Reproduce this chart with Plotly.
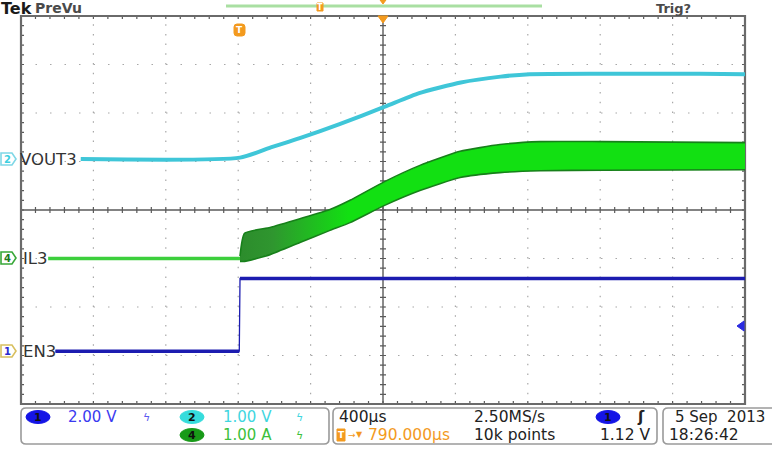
import plotly.graph_objects as go

# ---------------- data ----------------
# time in microseconds relative to the trigger (EN3 rising edge); 400 us/div
x_left, x_right = -1210, 2790

# CH1  EN3  (2.00 V/div)
en3_t = [-1020, -4, 0, 2790]
en3_v = [0.0, 0.0, 3.0, 3.0]

# CH2  VOUT3 (1.00 V/div)
vout3_t = [-880, 0, 170, 330, 550, 800, 990, 1220, 1440, 1600, 2000, 2540, 2790]
vout3_v = [0.0, 0.03, 0.24, 0.43, 0.72, 1.08, 1.36, 1.58, 1.70, 1.75, 1.76, 1.76, 1.75]

# CH4  IL3 (1.00 A/div): baseline before start-up, then ripple envelope
il3_base_t = [-1060, 0]
il3_base_a = [0.0, 0.0]
il3_t = [0, 25, 166, 331, 497, 608, 796, 994, 1216, 1436, 1658, 2000, 2790]
il3_hi = [0.05, 0.52, 0.64, 0.82, 1.01, 1.20, 1.58, 1.92, 2.21, 2.35, 2.41, 2.41, 2.39]
il3_lo = [-0.06, -0.06, 0.08, 0.33, 0.58, 0.74, 1.09, 1.40, 1.67, 1.77, 1.81, 1.82, 1.83]

# channel settings: (scale per div, ground offset in divisions)
ch1_scale, ch1_off = 2.0, -2.91
ch2_scale, ch2_off = 1.0, 1.05
ch4_scale, ch4_off = 1.0, -1.0
trig_level = 1.12

# ---------------- geometry ----------------
W, H = 772, 464
L, R, T, B = 21, 745, 16, 404


def px(x):
    return (x - L) / (R - L)


def py(y):
    return (B - y) / (B - T)


def div(vals, scale, off):
    return [None if v is None else off + v / scale for v in vals]


fig = go.Figure()

# ---------------- traces ----------------
CYAN = "#3fc6d8"
BLUE = "#1c1cb0"
LGREEN = "#12e012"
DGREEN = "#17801a"

# IL3 envelope band (dark during start-up, bright afterwards)
fig.add_trace(go.Scatter(x=il3_t, y=div(il3_hi, ch4_scale, ch4_off), mode="lines",
                         line=dict(color=DGREEN, width=1.6, shape="spline", smoothing=0.5), hoverinfo="skip"))
fig.add_trace(go.Scatter(x=il3_t, y=div(il3_lo, ch4_scale, ch4_off), mode="lines",
                         line=dict(color=DGREEN, width=1.6, shape="spline", smoothing=0.5), fill="tonexty",
                         fillgradient=dict(type="horizontal", start=0, stop=600,
                                           colorscale=[[0, "#2c8c2c"], [0.3, "#2f962f"], [1, LGREEN]]),
                         hoverinfo="skip"))
fig.add_trace(go.Scatter(x=il3_base_t, y=div(il3_base_a, ch4_scale, ch4_off), mode="lines",
                         line=dict(color="#3ccf3c", width=3.5), hoverinfo="skip"))

# VOUT3
fig.add_trace(go.Scatter(x=vout3_t, y=div(vout3_v, ch2_scale, ch2_off), mode="lines",
                         line=dict(color=CYAN, width=4, shape="spline", smoothing=0.6),
                         hoverinfo="skip"))

# EN3: thin step + thick flat parts
fig.add_trace(go.Scatter(x=en3_t, y=div(en3_v, ch1_scale, ch1_off), mode="lines",
                         line=dict(color=BLUE, width=1.3), hoverinfo="skip"))
en3_flat_t = en3_t[:2] + [None] + en3_t[2:]
en3_flat_v = en3_v[:2] + [None] + en3_v[2:]
fig.add_trace(go.Scatter(x=en3_flat_t, y=div(en3_flat_v, ch1_scale, ch1_off), mode="lines",
                         line=dict(color=BLUE, width=3.5), connectgaps=False, hoverinfo="skip"))

# ---------------- graticule ----------------
shapes = []
GRID = "#a8a8a8"
for i in range(1, 10):
    if i == 5:
        continue
    shapes.append(dict(type="line", xref="paper", yref="paper", x0=i / 10, x1=i / 10, y0=0, y1=1,
                       line=dict(color=GRID, width=1.2, dash="1.5px,8.2px"), layer="below"))
for j in range(1, 8):
    if j == 4:
        continue
    shapes.append(dict(type="line", xref="paper", yref="paper", x0=0, x1=1, y0=j / 8, y1=j / 8,
                       line=dict(color=GRID, width=1.2, dash="1.5px,13px"), layer="below"))

# center lines
shapes.append(dict(type="line", xref="paper", yref="paper", x0=0.5, x1=0.5, y0=0, y1=1,
                   line=dict(color="#5a5a5a", width=1.4), layer="below"))
shapes.append(dict(type="line", xref="paper", yref="paper", x0=0, x1=1, y0=0.5, y1=0.5,
                   line=dict(color="#5a5a5a", width=1.4), layer="below"))

# ticks
tl = 3.0
tx = tl / (R - L)
ty = tl / (B - T)
p = []
for k in range(51):
    x = k / 50
    p.append(f"M{x},{0.5 - ty} L{x},{0.5 + ty}")
    p.append(f"M{x},1 L{x},{1 - ty}")
    p.append(f"M{x},0 L{x},{ty}")
for k in range(41):
    y = k / 40
    p.append(f"M{0.5 - tx},{y} L{0.5 + tx},{y}")
    p.append(f"M0,{y} L{tx},{y}")
    p.append(f"M1,{y} L{1 - tx},{y}")
shapes.append(dict(type="path", xref="paper", yref="paper", path=" ".join(p),
                   line=dict(color="#5a5a5a", width=1.2), layer="below"))

# border
shapes.append(dict(type="rect", xref="paper", yref="paper", x0=0, x1=1, y0=0, y1=1,
                   line=dict(color="#6a6a6a", width=2.2), layer="below"))

# ---------------- decorations ----------------
ORANGE = "#f39a1e"


def ppath(points):
    return "M" + " L".join(f"{px(a)},{py(b)}" for a, b in points) + " Z"


def rrect(x0, y0, x1, y1, r):
    return (f"M{px(x0 + r)},{py(y0)} L{px(x1 - r)},{py(y0)} Q{px(x1)},{py(y0)} {px(x1)},{py(y0 + r)} "
            f"L{px(x1)},{py(y1 - r)} Q{px(x1)},{py(y1)} {px(x1 - r)},{py(y1)} L{px(x0 + r)},{py(y1)} "
            f"Q{px(x0)},{py(y1)} {px(x0)},{py(y1 - r)} L{px(x0)},{py(y0 + r)} Q{px(x0)},{py(y0)} {px(x0 + r)},{py(y0)} Z")


# record bar at top
shapes.append(dict(type="line", xref="paper", yref="paper", x0=px(226), x1=px(542), y0=py(6), y1=py(6),
                   line=dict(color="#a9dfa2", width=3)))
shapes.append(dict(type="rect", xref="paper", yref="paper", x0=px(317), x1=px(323), y0=py(3), y1=py(11),
                   line=dict(color=ORANGE, width=1), fillcolor=ORANGE))
shapes.append(dict(type="path", xref="paper", yref="paper", path=ppath([(380, 0), (386, 0), (383, 4)]),
                   line=dict(color=ORANGE, width=1), fillcolor=ORANGE))
shapes.append(dict(type="path", xref="paper", yref="paper", path=ppath([(378, 16), (388, 16), (383, 23)]),
                   line=dict(color=ORANGE, width=1), fillcolor=ORANGE))
# trigger position badge
shapes.append(dict(type="path", xref="paper", yref="paper", path=rrect(234, 24, 245, 36, 3),
                   line=dict(color=ORANGE, width=1), fillcolor=ORANGE))
# trigger level arrow (right)
shapes.append(dict(type="path", xref="paper", yref="paper", path=ppath([(737, 326), (744, 321), (744, 331)]),
                   line=dict(color="#2a2ae0", width=1), fillcolor="#2a2ae0"))

# left channel badges
badges = [(159, "2", "#7fd7e6", "#3ccfe0"), (258, "4", "#38a838", "#1d7a1d"), (351, "1", "#d8c060", "#2a2ad0")]
for yy, lab, edge, txt in badges:
    shapes.append(dict(type="path", xref="paper", yref="paper",
                       path=ppath([(1, yy - 6), (12, yy - 6), (16, yy), (12, yy + 6), (1, yy + 6)]),
                       line=dict(color=edge, width=1.6), fillcolor="white"))

# bottom boxes
for x0, x1 in [(21, 329), (333, 657), (663, 776)]:
    shapes.append(dict(type="path", xref="paper", yref="paper", path=rrect(x0, 408, x1, 444, 5),
                       line=dict(color="#9a9a9a", width=1.6)))
# channel ellipses
for cx, cy, col in [(38, 417, "#1414e6"), (192, 417, "#36dcdc"), (192, 435, "#189a18"), (608, 417, "#1414e6")]:
    shapes.append(dict(type="circle", xref="paper", yref="paper", x0=px(cx - 12), x1=px(cx + 12),
                       y0=py(cy - 6.5), y1=py(cy + 6.5), line=dict(color=col, width=1), fillcolor=col))
# small T badge in status bar
shapes.append(dict(type="rect", xref="paper", yref="paper", x0=px(337), x1=px(345), y0=py(429), y1=py(441),
                   line=dict(color=ORANGE, width=1), fillcolor=ORANGE))

FONT = "DejaVu Sans"
ann = []


def text(x, y, s, size=15.5, color="#222", anchor="left", bold=False, family=FONT):
    if bold:
        s = f"<b>{s}</b>"
    ann.append(dict(x=px(x), y=py(y), xref="paper", yref="paper", text=s, showarrow=False,
                    xanchor=anchor, yanchor="middle", font=dict(family=family, size=size, color=color)))


text(-1, 8, "Tek", 16, "#1a1a1a", bold=True)
text(33, 8, "PreVu", 14, "#4a4a4a", bold=True)
text(654, 8, "Trig?", 13, "#4a4a4a", bold=True)
text(320, 7, "T", 8, "white", anchor="center", bold=True)
text(239.5, 30, "T", 9, "white", anchor="center", bold=True)

for yy, lab, edge, txt in badges:
    text(7.5, yy, lab, 10, txt, anchor="center", bold=True)
text(18, 159, "VOUT3", 16.5, "#333")
text(21, 258, "IL3", 16.5, "#333")
text(21, 351, "EN3", 16.5, "#333")

# status bar
text(38, 417.5, "1", 11, "#111", anchor="center", bold=True)
text(192, 417.5, "2", 11, "#111", anchor="center", bold=True)
text(192, 435.5, "4", 11, "#111", anchor="center", bold=True)
text(608, 417.5, "1", 11, "#111", anchor="center", bold=True)

text(66, 417, "2.00 V", 15, "#3a3af0")
text(141, 417, "ϟ", 11, "#5a5af0")
text(221, 417, "1.00 V", 15, "#3fd6e0")
text(294, 417, "ϟ", 11, "#3fd6e0")
text(221, 435, "1.00 A", 15, "#3cbf3c")
text(294, 435, "ϟ", 11, "#3cbf3c")

text(337, 417, "400µs")
text(472, 417, "2.50MS/s")
text(641, 417, "ʃ", 15, "#222", anchor="center", bold=True)
text(341, 435, "T", 9, "white", anchor="center", bold=True)
text(346, 435, "→", 9, ORANGE)
text(354, 434, "▼", 8, ORANGE)
text(366, 435, "790.000µs", 15.5, ORANGE)
text(472, 435, "10k points")
text(652, 435, "1.12 V", anchor="right")
text(767, 417, "5 Sep  2013", 15, anchor="right")
text(667, 435, "18:26:42")

fig.update_layout(
    width=W, height=H,
    margin=dict(l=L, r=W - R, t=T, b=H - B, pad=0),
    paper_bgcolor="white", plot_bgcolor="white",
    showlegend=False,
    xaxis=dict(range=[x_left, x_right], visible=False, fixedrange=True),
    yaxis=dict(range=[-4, 4], visible=False, fixedrange=True),
    shapes=shapes, annotations=ann,
)

fig.write_html("out.html", config={"displayModeBar": False},
               post_script="document.body.style.margin='0px';document.body.style.overflow='hidden';")
